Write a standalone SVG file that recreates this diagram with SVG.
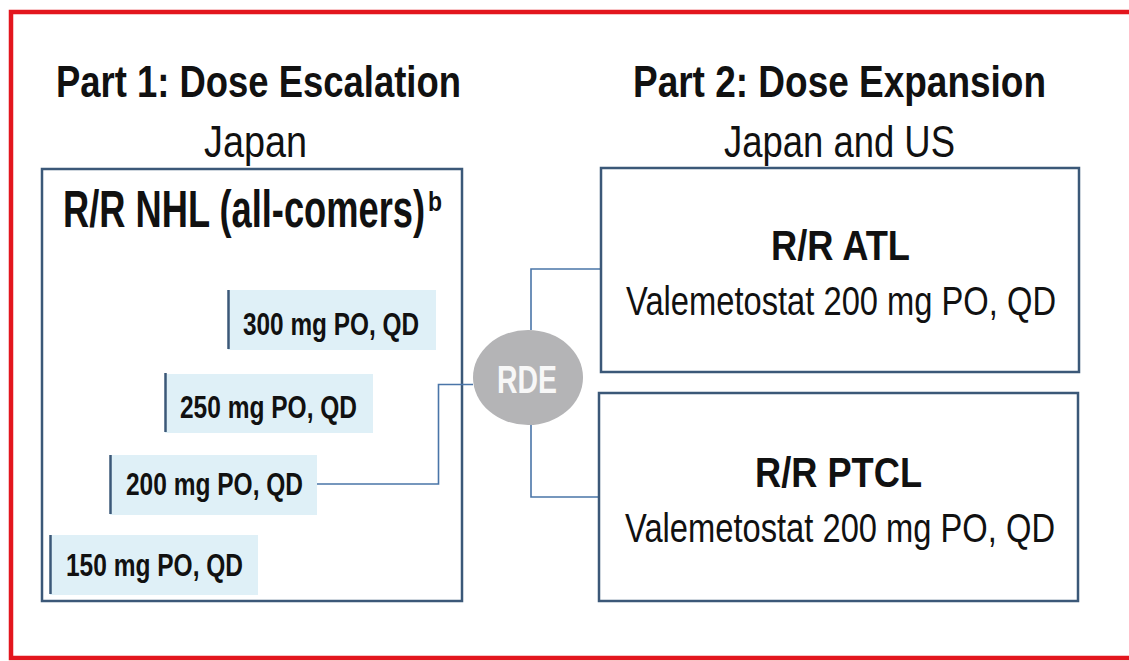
<svg xmlns="http://www.w3.org/2000/svg" width="1129" height="661" viewBox="0 0 1129 661">
<style>
  text{font-family:"Liberation Sans",Arial,sans-serif;fill:#111;}
  .b{font-weight:bold;}
  .box{fill:#fff;stroke:#3b5878;stroke-width:2.5;}
  .dose{fill:#dff0f7;}
  .tick{stroke:#3b5878;stroke-width:2.5;}
  .conn{fill:none;stroke:#4a75a8;stroke-width:1.6;}
  .t{font-size:37px;}
  .d{font-size:24.5px;font-weight:bold;}
  .v{font-size:32.5px;}
</style>
<rect width="1129" height="661" fill="#fff"/>
<path d="M1140,12 H11 V658 H1140" fill="none" stroke="#e3161e" stroke-width="4.5"/>

<g id="part1-title">
  <text class="b t" transform="translate(56,97) scale(1,1.22)" textLength="405" lengthAdjust="spacingAndGlyphs">Part 1: Dose Escalation</text>
  <text class="t" transform="translate(204,157) scale(1,1.22)" textLength="103" lengthAdjust="spacingAndGlyphs">Japan</text>
</g>
<g id="part2-title">
  <text class="b t" transform="translate(633,97) scale(1,1.22)" textLength="413" lengthAdjust="spacingAndGlyphs">Part 2: Dose Expansion</text>
  <text class="t" transform="translate(724,157) scale(1,1.22)" textLength="231" lengthAdjust="spacingAndGlyphs">Japan and US</text>
</g>

<g id="nhl">
  <rect class="box" x="42" y="169" width="420" height="432"/>
  <text class="b" transform="translate(63,227) scale(1,1.42)" font-size="36"><tspan textLength="362" lengthAdjust="spacingAndGlyphs">R/R NHL (all-comers)</tspan><tspan font-size="19" dx="3" dy="-11" textLength="14" lengthAdjust="spacingAndGlyphs">b</tspan></text>
</g>

<g id="dose300">
  <rect class="dose" x="228" y="290" width="208" height="60"/>
  <line class="tick" x1="228.5" y1="290" x2="228.5" y2="349"/>
  <text class="d" transform="translate(243,335) scale(1,1.27)" textLength="176" lengthAdjust="spacingAndGlyphs">300 mg PO, QD</text>
</g>
<g id="dose250">
  <rect class="dose" x="165" y="374" width="208" height="59"/>
  <line class="tick" x1="165.5" y1="373" x2="165.5" y2="432"/>
  <text class="d" transform="translate(180,418) scale(1,1.27)" textLength="177" lengthAdjust="spacingAndGlyphs">250 mg PO, QD</text>
</g>
<g id="dose200">
  <rect class="dose" x="110" y="455" width="207" height="60"/>
  <line class="tick" x1="110.5" y1="455" x2="110.5" y2="514"/>
  <text class="d" transform="translate(126,495) scale(1,1.27)" textLength="177" lengthAdjust="spacingAndGlyphs">200 mg PO, QD</text>
</g>
<g id="dose150">
  <rect class="dose" x="50" y="535" width="208" height="60"/>
  <line class="tick" x1="50.5" y1="535" x2="50.5" y2="594"/>
  <text class="d" transform="translate(66,576) scale(1,1.27)" textLength="177" lengthAdjust="spacingAndGlyphs">150 mg PO, QD</text>
</g>

<g id="connectors">
  <path class="conn" d="M317,484 H438.5 V384.5 H473"/>
  <path class="conn" d="M531,330 V269 H601"/>
  <path class="conn" d="M531,425 V497 H599"/>
</g>

<g id="rde">
  <ellipse cx="528" cy="377.5" rx="55" ry="47.5" fill="#b4b4b6"/>
  <text class="b" transform="translate(497,393) scale(1,1.34)" font-size="28.4" textLength="60" lengthAdjust="spacingAndGlyphs" style="fill:#f7f7f7">RDE</text>
</g>

<g id="atl">
  <rect class="box" x="601" y="168" width="478" height="204"/>
  <text class="b" transform="translate(771,260) scale(1,1.19)" font-size="35.2" textLength="139" lengthAdjust="spacingAndGlyphs">R/R ATL</text>
  <text class="v" transform="translate(626,315) scale(1,1.23)" textLength="430" lengthAdjust="spacingAndGlyphs">Valemetostat 200 mg PO, QD</text>
</g>

<g id="ptcl">
  <rect class="box" x="599" y="393" width="479" height="208"/>
  <text class="b" transform="translate(755,487) scale(1,1.16)" font-size="36.2" textLength="167" lengthAdjust="spacingAndGlyphs">R/R PTCL</text>
  <text class="v" transform="translate(625,542) scale(1,1.23)" textLength="430" lengthAdjust="spacingAndGlyphs">Valemetostat 200 mg PO, QD</text>
</g>
</svg>
